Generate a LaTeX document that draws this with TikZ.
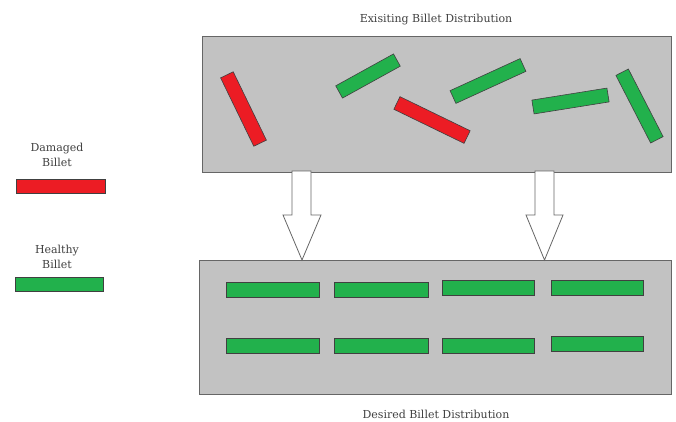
\documentclass[tikz,border=0pt]{standalone}
\usepackage{fontspec}
\setmainfont{DejaVu Serif}
\begin{document}
\begin{tikzpicture}[x=1pt,y=-1pt,
  panel/.style={draw=black!60,fill=black!24,line width=0.8pt},
  billet/.style={draw=black!75,line width=0.6pt,minimum height=14pt,inner sep=0pt,anchor=center},
  bad/.style={billet,fill=billetred},
  good/.style={billet,fill=billetgreen},
  flat/.style={good,minimum height=15pt},
  lbl/.style={font=\fontsize{11}{15}\selectfont,text=black!75,inner sep=0pt,align=center},
  blockarrow/.style={draw=black!60,fill=white,line width=0.8pt,line join=miter}]
\definecolor{billetred}{RGB}{236,28,36}
\definecolor{billetgreen}{RGB}{34,177,76}
\useasboundingbox (0,0) rectangle (676,421);
% titles
\node[lbl] (ttop) at (436,20) {Exisiting Billet Distribution};
\node[lbl] (tbot) at (436,414) {Desired Billet Distribution};
% panels
\draw[panel] (202,36) rectangle (671,172);
\draw[panel] (199,260) rectangle (671,394);
% top billets
\node[bad,minimum width=76pt,rotate=-64.1] (r1) at (243.5,109) {};
\node[good,minimum width=66pt,rotate=28.9] (g1) at (368,76) {};
\node[bad,minimum width=78pt,rotate=-25.9] (r2) at (432,120) {};
\node[good,minimum width=77pt,rotate=24.6] (g2) at (488,81) {};
\node[good,minimum width=76pt,rotate=9.1] (g3) at (570.5,101) {};
\node[good,minimum width=76pt,rotate=-62.8] (g4) at (639.5,106) {};
% bottom billets
\node[flat,minimum width=93pt] (b11) at (272.5,289.5) {};
\node[flat,minimum width=94pt] (b12) at (381,289.5) {};
\node[flat,minimum width=92pt] (b13) at (488,288) {};
\node[flat,minimum width=92pt] (b14) at (597,288) {};
\node[flat,minimum width=93pt] (b21) at (272.5,345.5) {};
\node[flat,minimum width=94pt] (b22) at (381,345.5) {};
\node[flat,minimum width=92pt] (b23) at (488,345.5) {};
\node[flat,minimum width=92pt] (b24) at (597,344) {};
% block arrows
\draw[blockarrow] (292,171) -- (311,171) -- (311,215) -- (321,215) -- (302,260) -- (283,215) -- (292,215) -- cycle;
\draw[blockarrow] (535,171) -- (554,171) -- (554,215) -- (563,215) -- (544.5,260) -- (526,215) -- (535,215) -- cycle;
% legend
\node[lbl] (ldam) at (57,155) {Damaged\\Billet};
\node[billet,fill=billetred,minimum width=89pt,minimum height=14pt] (lred) at (60.5,186.5) {};
\node[lbl] (lhea) at (57,257) {Healthy\\Billet};
\node[billet,fill=billetgreen,minimum width=88pt,minimum height=14pt] (lgreen) at (59,284.5) {};
\end{tikzpicture}
\end{document}
